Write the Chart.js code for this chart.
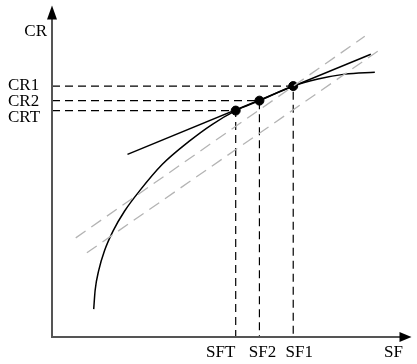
<!DOCTYPE html>
<html>
<head>
<meta charset="utf-8">
<script src="https://cdn.jsdelivr.net/npm/chart.js@4.4.1/dist/chart.umd.min.js"></script>
<style>
  body { margin: 0; background: #fff; }
</style>
</head>
<body>
<canvas id="crChart" width="417" height="364"></canvas>
<script>
// values (arbitrary units, axes go 0..100)
var curveX = [11.6, 12.0, 13.0, 14.6, 17.0, 20.2, 24.3, 30.7, 38.1, 44.5, 51.1, 57.7, 67.1, 74.0, 81.5, 89.8];
var curveY = [8.4, 14.1, 20.1, 26.0, 32.0, 38.0, 44.0, 52.1, 59.0, 64.1, 68.3, 71.3, 75.7, 77.8, 79.3, 79.9];
var tangentX = [21.0, 88.7];
var tangentY = [55.1, 85.3];
var greyUpperX = [6.6, 87.0];
var greyUpperY = [29.9, 90.7];
var greyLowerX = [9.7, 90.6];
var greyLowerY = [25.4, 86.2];
var sfValues = [51.1, 57.7, 67.1];
var crValues = [68.3, 71.3, 75.7];
var sfLabels = ['SFT', 'SF2', 'SF1'];
var crLabels = ['CRT', 'CR2', 'CR1'];

const FONT = '17px "Liberation Serif", "DejaVu Serif", serif';

function toPoints(xs, ys) {
    return xs.map((x, i) => ({ x: x, y: ys[i] }));
}

var datasets = [];
// grey dashed lines
[[greyUpperX, greyUpperY], [greyLowerX, greyLowerY]].forEach(g => {
    datasets.push({
        data: toPoints(g[0], g[1]),
        showLine: true, borderColor: '#b4b4b4', borderWidth: 1.3,
        borderDash: [12, 7], pointRadius: 0
    });
});
// black dashed guides from each point to both axes
sfValues.forEach((sf, i) => {
    datasets.push({
        data: [{ x: 0, y: crValues[i] }, { x: sf, y: crValues[i] }, { x: sf, y: 0 }],
        showLine: true, borderColor: '#000', borderWidth: 1.2,
        borderDash: [8, 5], pointRadius: 0
    });
});
datasets.push({
    data: toPoints(curveX, curveY),
    showLine: true, borderColor: '#000', borderWidth: 1.5,
    cubicInterpolationMode: 'monotone', pointRadius: 0
});
datasets.push({
    data: toPoints(tangentX, tangentY),
    showLine: true, borderColor: '#000', borderWidth: 1.5, pointRadius: 0
});
datasets.push({
    data: toPoints(sfValues, crValues),
    showLine: false, pointRadius: 4.5, pointBackgroundColor: '#000', pointBorderColor: '#000'
});

// axes with arrows and the text labels
const axesPlugin = {
    id: 'axesArrows',
    afterDraw(chart) {
        const ctx = chart.ctx;
        const xs = chart.scales.x, ys = chart.scales.y;
        const x0 = xs.getPixelForValue(0), y0 = ys.getPixelForValue(0);
        const top = ys.getPixelForValue(100), right = xs.getPixelForValue(100);
        ctx.save();
        ctx.strokeStyle = '#555';
        ctx.lineWidth = 2;
        ctx.beginPath();
        ctx.moveTo(x0, top + 10);
        ctx.lineTo(x0, y0);
        ctx.lineTo(right - 10, y0);
        ctx.stroke();
        ctx.fillStyle = '#000';
        ctx.beginPath();
        ctx.moveTo(x0, top);
        ctx.lineTo(x0 - 5, top + 14);
        ctx.lineTo(x0 + 5, top + 14);
        ctx.closePath();
        ctx.fill();
        ctx.beginPath();
        ctx.moveTo(right, y0);
        ctx.lineTo(right - 12, y0 - 5);
        ctx.lineTo(right - 12, y0 + 5);
        ctx.closePath();
        ctx.fill();

        ctx.font = FONT;
        ctx.textBaseline = 'middle';
        ctx.textAlign = 'right';
        ctx.fillText('CR', x0 - 5, top + 26);
        ctx.textAlign = 'left';
        const crShift = [7, 1, -1];
        crLabels.forEach((l, i) => {
            ctx.fillText(l, 8, ys.getPixelForValue(crValues[i]) + crShift[i]);
        });
        ctx.textAlign = 'center';
        const sfShift = [-15, 3, 6];
        sfLabels.forEach((l, i) => {
            ctx.fillText(l, xs.getPixelForValue(sfValues[i]) + sfShift[i], y0 + 16);
        });
        ctx.fillText('SF', right - 18, y0 + 16);
        ctx.restore();
    }
};

new Chart(document.getElementById('crChart'), {
    type: 'scatter',
    data: { datasets: datasets },
    options: {
        responsive: false,
        animation: false,
        layout: { padding: { left: 52, right: 3, top: 3, bottom: 27 } },
        plugins: { legend: { display: false }, tooltip: { enabled: false } },
        scales: {
            x: { type: 'linear', min: 0, max: 100, display: false },
            y: { type: 'linear', min: 0, max: 100, display: false }
        }
    },
    plugins: [axesPlugin]
});
</script>
</body>
</html>
